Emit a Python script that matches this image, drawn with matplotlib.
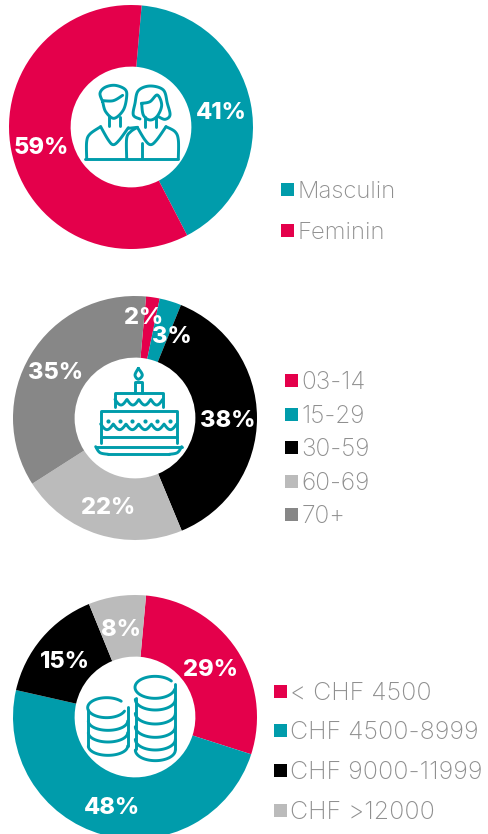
import numpy as np
import matplotlib
matplotlib.use("Agg")
import matplotlib.pyplot as plt
from matplotlib.patches import Rectangle

RED = '#E4004B'
TEAL = '#009CAB'
BLACK = '#000000'
LIGHT = '#BBBBBB'
GREY = '#878787'
LEG_TXT = '#8F8F8F'

W, H = 488, 834

# Chart values: printed percentages, plus the shares as the wedges really measure
gender_labels = ['Masculin', 'Feminin']
gender_values = [41, 59]
gender_colors = [TEAL, RED]

age_labels = ['03-14', '15-29', '30-59', '60-69', '70+']
age_values = [2, 3, 38, 22, 35]
age_shares = [1.8, 2.9, 37.6, 22.2, 35.5]
age_colors = [RED, TEAL, BLACK, LIGHT, GREY]

income_labels = ['< CHF 4500', 'CHF 4500-8999', 'CHF 9000-11999', 'CHF >12000']
income_values = [29, 48, 15, 8]
income_shares = [28.5, 48.6, 15.3, 7.6]
income_colors = [RED, TEAL, BLACK, LIGHT]

plt.rcParams['font.family'] = ['Inter', 'DejaVu Sans']
fig = plt.figure(figsize=(W / 100, H / 100), dpi=100, facecolor='white')


def donut(cx, cy, r, values, colors, start=5):
    # pie axes placed by pixel centre and radius, clipped by the figure edge
    ax = fig.add_axes([(cx - r) / W, 1 - (cy + r) / H, 2 * r / W, 2 * r / H])
    ax.pie(values, colors=colors, startangle=90 - start, counterclock=False,
           radius=1.0, wedgeprops=dict(width=0.505, linewidth=0))
    ax.set_xlim(-1, 1)
    ax.set_ylim(-1, 1)
    ax.set_aspect('equal')
    ax.axis('off')


donut(131, 127, 122, gender_values, gender_colors)
donut(135, 418, 122, age_shares, age_colors, start=5.2)
donut(135, 717, 122, income_shares, income_colors, start=5.2)

# Overlay in pixel coordinates for the labels, legends and icons
ov = fig.add_axes([0, 0, 1, 1], zorder=5)
ov.set_xlim(0, W)
ov.set_ylim(H, 0)
ov.axis('off')
ov.patch.set_alpha(0)


def pct(x, y, value):
    ov.text(x, y + 1.5, f'{value}%', color='white', fontsize=17, fontweight='heavy',
            ha='center', va='center')


for (x, y), v in zip([(221, 111), (41, 146)], gender_values):
    pct(x, y, v)
for (x, y), v in zip([(144, 317), (172, 335), (228, 419), (108, 506), (56, 371)], age_values):
    pct(x, y, v)
for (x, y), v in zip([(211, 668), (112, 806), (65, 660), (121, 628)], income_values):
    pct(x, y, v)


def legend(x, ys, labels, colors, size=17):
    for y, lab, c in zip(ys, labels, colors):
        ov.add_patch(Rectangle((x - 6.5, y - 6.5), 13, 13, color=c, lw=0))
        ov.text(x + 10.5, y, lab, color=LEG_TXT, fontsize=size, fontweight='light',
                ha='left', va='center_baseline')


legend(287, [189, 230], gender_labels, gender_colors, size=17.2)
legend(291, [380, 414, 447, 481, 514], age_labels, age_colors, size=17.6)
legend(280, [691, 730, 770, 810], income_labels, income_colors, size=18)


# --- icons ---
def smooth(pts, closed=False, n=12):
    # Catmull-Rom through the points
    p = np.array(pts, float)
    if closed:
        p = np.vstack([p[-1], p, p[0], p[1]])
    else:
        p = np.vstack([p[0], p, p[-1]])
    out = []
    for i in range(1, len(p) - 2):
        for t in np.linspace(0, 1, n):
            out.append(0.5 * (2 * p[i] + (p[i + 1] - p[i - 1]) * t
                              + (2 * p[i - 1] - 5 * p[i] + 4 * p[i + 1] - p[i + 2]) * t ** 2
                              + (3 * p[i] - p[i - 1] - 3 * p[i + 1] + p[i + 2]) * t ** 3))
    return np.array(out)


def stroke(xy, ox, oy, lw=2.1):
    xy = np.asarray(xy, float)
    ov.plot(ox + xy[:, 0] / 3, oy + xy[:, 1] / 3, color=TEAL, lw=lw,
            solid_capstyle='round', solid_joinstyle='round')


# people (points in 3x zoom units)
ox, oy = 60, 60
stroke(smooth([(128, 125), (120, 100), (135, 82), (165, 76), (195, 88), (200, 110), (190, 150),
               (162, 175), (137, 155), (128, 125)]), ox, oy)
stroke(smooth([(128, 122), (160, 122), (188, 106)]), ox, oy)
stroke([(146, 168), (146, 197)], ox, oy)
stroke([(180, 170), (180, 197)], ox, oy)
stroke(smooth([(80, 295), (80, 245), (90, 222), (122, 200)]), ox, oy)
stroke(smooth([(122, 200), (145, 240), (160, 254), (178, 240), (205, 203)]), ox, oy)
stroke([(75, 297), (355, 297)], ox, oy)
stroke(smooth([(240, 177), (220, 165), (225, 130), (235, 92), (270, 78), (310, 90), (322, 130),
               (330, 165), (315, 178), (295, 170)]), ox, oy)
stroke(smooth([(245, 130), (270, 125), (292, 105), (305, 135), (292, 168), (270, 180),
               (250, 165), (245, 130)]), ox, oy)
stroke([(255, 172), (255, 200)], ox, oy)
stroke([(288, 172), (288, 200)], ox, oy)
stroke(smooth([(200, 295), (200, 235), (212, 215), (232, 202)]), ox, oy)
stroke(smooth([(232, 202), (255, 240), (272, 254), (290, 240), (318, 200)]), ox, oy)
stroke(smooth([(318, 200), (345, 215), (355, 240), (355, 295)]), ox, oy)
stroke([(245, 250), (245, 295)], ox, oy)
stroke([(205, 205), (232, 202)], ox, oy)

# cake
ox, oy = 80, 350
stroke(smooth([(175, 55), (165, 75), (175, 88), (187, 75), (175, 55)], n=6), ox, oy)
stroke([(166, 130), (166, 97), (185, 97), (185, 130)], ox, oy)
stroke([(105, 172), (105, 130), (248, 130), (248, 172)], ox, oy)
xw = np.linspace(105, 248, 120)
stroke(np.c_[xw, 148 + 17 * np.abs(np.sin((xw - 105) / 143 * 4 * np.pi))], ox, oy)
stroke([(62, 278), (62, 183), (290, 183), (290, 278)], ox, oy)
xw = np.linspace(62, 290, 200)
stroke(np.c_[xw, 222 + 17 * np.abs(np.sin((xw - 62) / 228 * 6 * np.pi))], ox, oy)
stroke([(62, 262), (290, 262)], ox, oy)
stroke(smooth([(47, 290), (60, 308), (85, 313)]), ox, oy)
stroke([(47, 290), (305, 290)], ox, oy)
stroke(smooth([(305, 290), (292, 308), (268, 313)]), ox, oy)
stroke([(85, 313), (268, 313)], ox, oy)
for xd in [83, 120, 157, 195, 232, 270]:
    ov.plot(ox + xd / 3, oy + 212 / 3, 'o', color=TEAL, ms=3, mew=0)


# coins
def arc(cx, cy, rx, ry, t0=0, t1=np.pi):
    t = np.linspace(t0, t1, 50)
    return np.c_[cx + rx * np.cos(t), cy + ry * np.sin(t)]


ox, oy = 70, 660
stroke(arc(110, 143, 57, 30, np.radians(20), np.radians(320)), ox, oy)
stroke([(173, 140), (173, 258)], ox, oy)
stroke([(55, 150), (55, 258)], ox, oy)
for cy in [183, 218, 258]:
    stroke(arc(114, cy, 59, 28), ox, oy)
stroke(arc(255, 82, 60, 33, np.radians(10), np.radians(325)), ox, oy)
stroke([(316, 72), (316, 268)], ox, oy)
stroke([(197, 115), (197, 268)], ox, oy)
for cy in [118, 160, 200, 238, 270]:
    stroke(arc(256, cy, 60, 32), ox, oy)

fig.savefig('out.png', dpi=100)
